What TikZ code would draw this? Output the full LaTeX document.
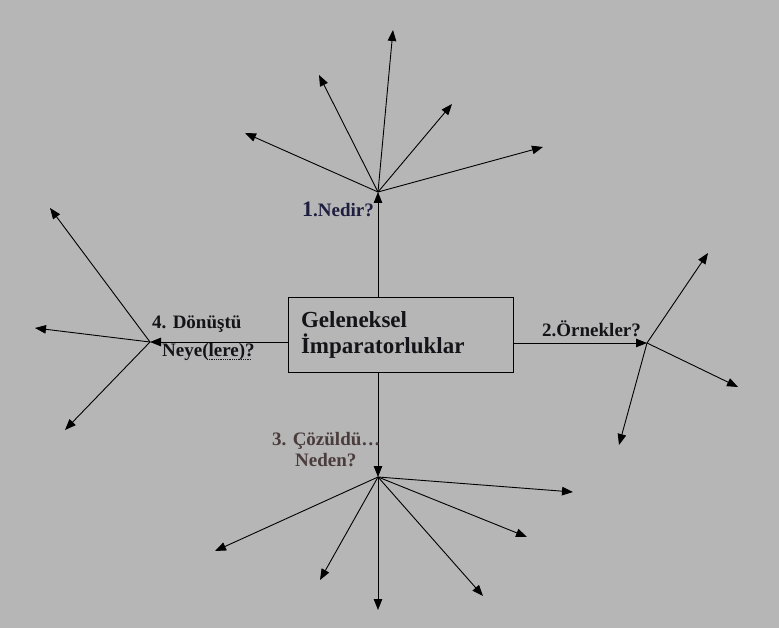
\documentclass[tikz,border=0pt]{standalone}
\usepackage{fontspec}
\setmainfont{Liberation Serif}
\usetikzlibrary{arrows.meta}
\definecolor{bg}{HTML}{B5B6B5}
\definecolor{navy}{HTML}{1E1E40}
\definecolor{brownish}{HTML}{4A3C3C}
\definecolor{ink}{HTML}{141418}
\begin{document}
\begin{tikzpicture}[x=1pt,y=-1pt,
  arr/.style={-{Triangle[length=11pt,width=8.5pt]}, line width=0.9pt, draw=black},
  lbl/.style={anchor=base west, inner sep=0pt, font=\bfseries\fontsize{19}{21}\selectfont, text=ink},
  boxstyle/.style={draw=black, line width=0.9pt, minimum width=225pt, minimum height=75pt,
    align=left, text width=199pt, inner sep=13pt, font=\bfseries\fontsize{23}{26}\selectfont, text=ink}]
\fill[bg] (0,0) rectangle (779,628);
\useasboundingbox (0,0) rectangle (779,628);

\node[boxstyle] (box) at (400.5,334.5) {Geleneksel\\İmparatorluklar};

% hubs
\coordinate (hT) at (378,192);
\coordinate (hR) at (647,343);
\coordinate (hB) at (378,477);
\coordinate (hL) at (150,342);

% top endpoints
\coordinate (t1) at (245,133);
\coordinate (t2) at (319,75);
\coordinate (t3) at (393,30);
\coordinate (t4) at (452,104);
\coordinate (t5) at (543,147);
% right endpoints
\coordinate (r1) at (708,253);
\coordinate (r2) at (738,387);
\coordinate (r3) at (619,445);
% bottom endpoints
\coordinate (b1) at (215,551);
\coordinate (b2) at (320,580);
\coordinate (b3) at (378,610);
\coordinate (b4) at (483,596);
\coordinate (b5) at (527,537);
\coordinate (b6) at (573,492);
% left endpoints
\coordinate (l1) at (50,208);
\coordinate (l2) at (35,328);
\coordinate (l3) at (65,430);

% box to hubs
\draw[arr] (box.north -| hT) -- (hT);
\draw[arr] (box.east |- hR) -- (hR);
\draw[arr] (box.south -| hB) -- (hB);
\draw[arr] (box.west |- hL) -- (hL);

\foreach \e in {t1,t2,t3,t4,t5} \draw[arr] (hT) -- (\e);
\foreach \e in {r1,r2,r3} \draw[arr] (hR) -- (\e);
\foreach \e in {b1,b2,b3,b4,b5,b6} \draw[arr] (hB) -- (\e);
\foreach \e in {l1,l2,l3} \draw[arr] (hL) -- (\e);

% labels
\node[lbl, text=navy] (lab1) at (302,217) {{\fontsize{22}{22}\selectfont 1}.Nedir?};
\node[lbl] (lab2) at (542,337) {2.Örnekler?};
\node[lbl, text=brownish] (lab3a) at (272,445) {3. Çözüldü…};
\node[lbl, text=brownish] (lab3b) at (295,466) {Neden?};
\node[lbl] (lab4a) at (152,329) {4. Dönüştü};
\node[lbl] (lab4b) at (162,356) {Neye(lere)?};
\draw[densely dotted, line width=0.8pt, ink] (lab4b.base west) ++(45,3) coordinate (u1) -- ++(44,0) coordinate (u2);
\end{tikzpicture}
\end{document}
